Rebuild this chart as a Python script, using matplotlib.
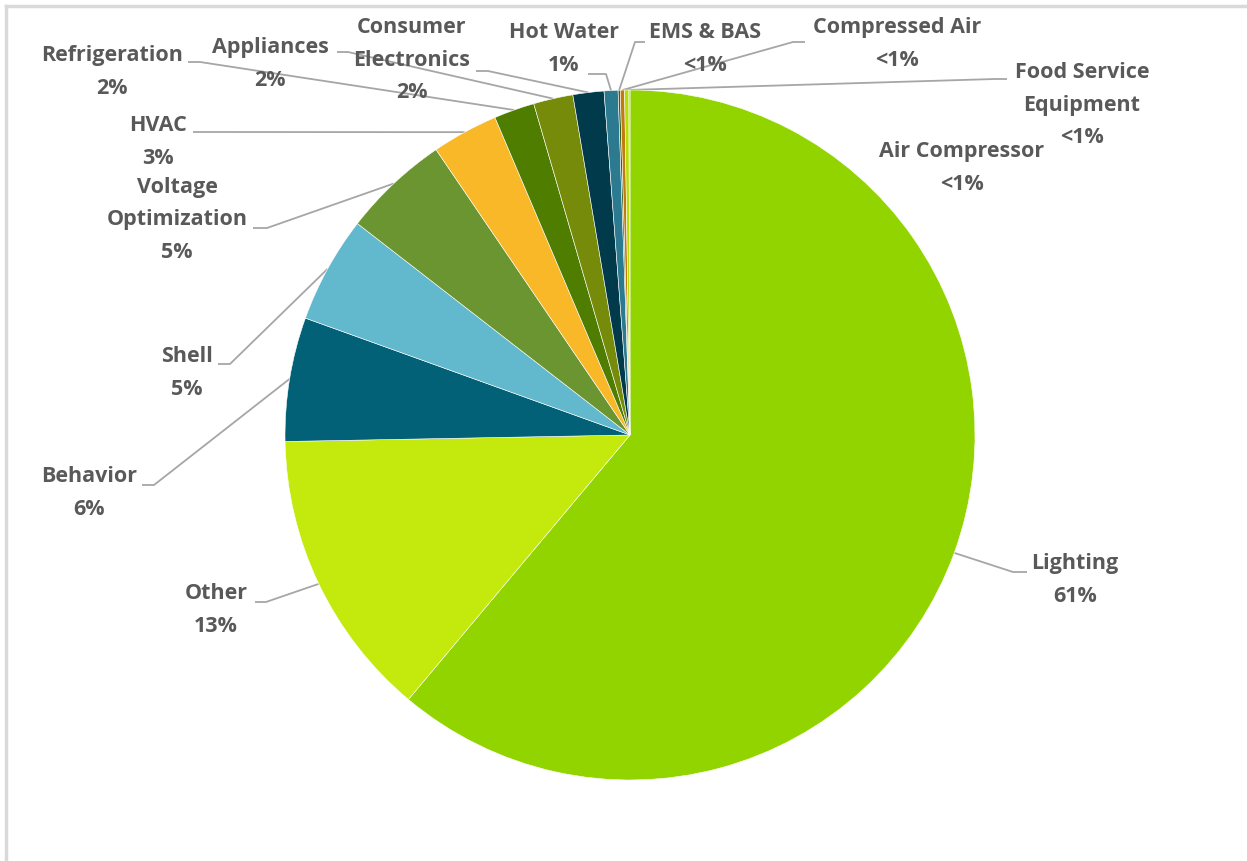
import numpy as np
import matplotlib
matplotlib.use("Agg")
import matplotlib.pyplot as plt

categories = ["Lighting", "Other", "Behavior", "Shell", "Voltage\nOptimization", "HVAC",
              "Refrigeration", "Appliances", "Consumer\nElectronics", "Hot Water",
              "EMS & BAS", "Compressed Air", "Food Service\nEquipment", "Air Compressor"]
values = [61.1, 13.6, 5.8, 5.0, 5.0, 3.1, 1.9, 1.85, 1.45, 0.65, 0.1, 0.2, 0.2, 0.05]
pct_labels = ["61%", "13%", "6%", "5%", "5%", "3%", "2%", "2%", "2%", "1%",
              "<1%", "<1%", "<1%", "<1%"]
colors = ["#92D400", "#C3E90D", "#026177", "#62B8CC", "#6A9530", "#F8B827",
          "#4E7D00", "#768B0A", "#003A4B", "#2B7A90", "#3F5F1F", "#C07A10",
          "#B5E000", "#A0CC10"]

W, H = 1247, 861
fig = plt.figure(figsize=(W / 100, H / 100), dpi=100)
ax = fig.add_axes([0, 0, 1, 1])

def Y(y):
    return H - y

cx, cy, R = 630, 435, 345
wedges, _ = ax.pie(values, colors=colors, startangle=90, counterclock=False,
                   center=(cx, Y(cy)), radius=R, frame=True,
                   wedgeprops=dict(linewidth=0.4, edgecolor="white"))
ax.set_xlim(0, W)
ax.set_ylim(0, H)
ax.set_aspect("equal")
ax.axis("off")

# label layout: text center (image px), line start, elbow x
layout = {
    0: ((1075, 580), (1027, 572), 1013),
    1: ((216, 610), (255, 602), 266),
    2: ((89, 493), (142, 485), 154),
    3: ((187, 373), (218, 364), 230),
    4: ((177, 220), (253, 228), 267),
    5: ((158, 142), (193, 132), 205),
    6: ((112, 72), (188, 62), 200),
    7: ((270, 64), (337, 52), 348),
    8: ((412, 60), (476, 71), 488),
    9: ((564, 49), (588, 74), 606),
    10: ((705, 49), (645, 42), 635),
    11: ((897, 44), (805, 42), 793),
    12: ((1082, 105), (1007, 79), 995),
    13: ((962, 168), None, None),
}

txt_color = "#595959"
for i, w in enumerate(wedges):
    (tx, ty), start, ex = layout[i]
    ax.text(tx, Y(ty), categories[i] + "\n" + pct_labels[i], ha="center", va="center",
            fontsize=15.5, fontweight="bold", color=txt_color, family="Open Sans",
            linespacing=1.7)
    if start is not None:
        th = np.deg2rad((w.theta1 + w.theta2) / 2)
        px = cx + R * np.cos(th)
        py = Y(cy) + R * np.sin(th)
        ax.plot([start[0], ex, px], [Y(start[1]), Y(start[1]), py],
                color="#A6A6A6", lw=1.3, solid_capstyle="butt", zorder=0.5)

# chart frame edges (top and left visible)
ax.plot([6, 6], [0, Y(6)], color="#D9D9D9", lw=2.5)
ax.plot([6, W], [Y(6), Y(6)], color="#D9D9D9", lw=2.5)

fig.savefig("out.png", dpi=100)
